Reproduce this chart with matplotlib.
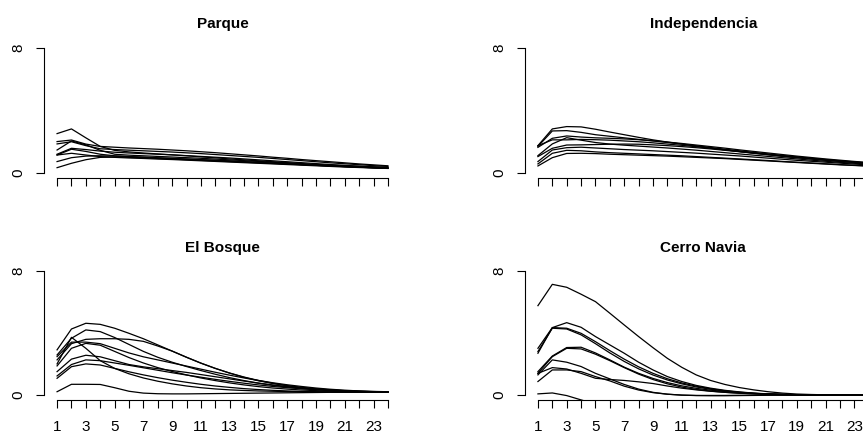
import matplotlib
matplotlib.use("Agg")
import matplotlib.pyplot as plt

plt.rcParams["font.family"] = ["Liberation Sans", "DejaVu Sans"]

# -------------------------------------------------------------------
# Data: one curve per row, hours 1..24
# -------------------------------------------------------------------
hours = list(range(1, 25))

parque = [
    [2.52, 2.82, 2.25, 1.70, 1.45, 1.35, 1.28, 1.22, 1.16, 1.10, 1.03, 0.97, 0.90, 0.84, 0.78, 0.72, 0.66, 0.60, 0.55, 0.50, 0.46, 0.42, 0.39, 0.36],
    [2.01, 2.11, 1.85, 1.70, 1.65, 1.60, 1.56, 1.52, 1.47, 1.42, 1.36, 1.30, 1.23, 1.16, 1.09, 1.01, 0.94, 0.86, 0.79, 0.72, 0.65, 0.58, 0.52, 0.46],
    [1.86, 2.00, 1.75, 1.55, 1.50, 1.46, 1.42, 1.38, 1.34, 1.29, 1.24, 1.18, 1.12, 1.06, 1.00, 0.93, 0.86, 0.79, 0.72, 0.65, 0.59, 0.53, 0.47, 0.42],
    [1.47, 2.05, 1.80, 1.45, 1.20, 1.14, 1.10, 1.06, 1.02, 0.98, 0.94, 0.89, 0.84, 0.79, 0.74, 0.69, 0.64, 0.58, 0.53, 0.48, 0.43, 0.39, 0.35, 0.31],
    [1.20, 1.58, 1.50, 1.40, 1.33, 1.28, 1.24, 1.20, 1.16, 1.11, 1.06, 1.01, 0.96, 0.90, 0.84, 0.78, 0.72, 0.66, 0.60, 0.54, 0.49, 0.44, 0.39, 0.35],
    [1.15, 1.52, 1.38, 1.20, 1.10, 1.05, 1.01, 0.97, 0.93, 0.89, 0.85, 0.81, 0.77, 0.72, 0.68, 0.63, 0.58, 0.54, 0.49, 0.45, 0.41, 0.37, 0.33, 0.30],
    [1.15, 1.26, 1.15, 1.05, 1.00, 0.96, 0.93, 0.89, 0.86, 0.82, 0.78, 0.74, 0.70, 0.66, 0.62, 0.58, 0.54, 0.50, 0.46, 0.42, 0.38, 0.35, 0.32, 0.29],
    [0.73, 0.98, 1.08, 1.10, 1.08, 1.05, 1.01, 0.97, 0.93, 0.89, 0.85, 0.81, 0.77, 0.72, 0.68, 0.63, 0.59, 0.54, 0.50, 0.46, 0.42, 0.38, 0.34, 0.31],
    [0.34, 0.62, 0.85, 1.00, 1.02, 1.00, 0.97, 0.93, 0.89, 0.85, 0.81, 0.77, 0.73, 0.69, 0.65, 0.61, 0.57, 0.53, 0.49, 0.45, 0.41, 0.37, 0.34, 0.30],
]

independencia = [
    [1.75, 2.82, 2.97, 2.95, 2.80, 2.62, 2.45, 2.28, 2.12, 1.98, 1.85, 1.72, 1.60, 1.48, 1.37, 1.26, 1.16, 1.06, 0.97, 0.89, 0.81, 0.74, 0.67, 0.61],
    [1.70, 2.69, 2.71, 2.60, 2.45, 2.35, 2.25, 2.15, 2.05, 1.95, 1.85, 1.74, 1.63, 1.52, 1.42, 1.32, 1.22, 1.12, 1.03, 0.94, 0.86, 0.78, 0.71, 0.64],
    [1.64, 2.22, 2.37, 2.30, 2.25, 2.22, 2.18, 2.13, 2.06, 1.98, 1.89, 1.79, 1.69, 1.59, 1.48, 1.38, 1.28, 1.18, 1.08, 0.99, 0.90, 0.82, 0.74, 0.67],
    [1.75, 2.12, 2.12, 2.15, 2.13, 2.10, 2.05, 2.00, 1.93, 1.85, 1.77, 1.68, 1.58, 1.48, 1.38, 1.28, 1.19, 1.10, 1.01, 0.92, 0.84, 0.76, 0.69, 0.62],
    [1.11, 1.86, 2.26, 2.10, 1.95, 1.85, 1.78, 1.72, 1.66, 1.60, 1.53, 1.46, 1.38, 1.30, 1.22, 1.14, 1.06, 0.98, 0.90, 0.82, 0.75, 0.68, 0.62, 0.56],
    [1.05, 1.58, 1.79, 1.80, 1.82, 1.84, 1.85, 1.84, 1.80, 1.75, 1.69, 1.62, 1.54, 1.45, 1.36, 1.27, 1.18, 1.09, 1.00, 0.92, 0.84, 0.76, 0.69, 0.62],
    [0.73, 1.47, 1.62, 1.65, 1.60, 1.55, 1.50, 1.46, 1.42, 1.37, 1.32, 1.27, 1.21, 1.15, 1.09, 1.02, 0.95, 0.88, 0.81, 0.75, 0.69, 0.63, 0.57, 0.52],
    [0.58, 1.26, 1.45, 1.42, 1.35, 1.30, 1.26, 1.22, 1.18, 1.14, 1.10, 1.05, 1.00, 0.95, 0.90, 0.85, 0.80, 0.74, 0.69, 0.64, 0.59, 0.54, 0.49, 0.45],
    [0.45, 0.98, 1.25, 1.26, 1.24, 1.20, 1.17, 1.14, 1.11, 1.08, 1.04, 1.00, 0.96, 0.92, 0.87, 0.82, 0.77, 0.72, 0.67, 0.62, 0.57, 0.52, 0.48, 0.44],
]

el_bosque = [
    [2.90, 4.25, 4.62, 4.55, 4.30, 3.97, 3.62, 3.22, 2.82, 2.42, 2.04, 1.70, 1.40, 1.14, 0.92, 0.74, 0.59, 0.47, 0.38, 0.31, 0.26, 0.22, 0.20, 0.18],
    [2.57, 3.65, 4.19, 4.08, 3.70, 3.25, 2.80, 2.42, 2.10, 1.82, 1.56, 1.32, 1.10, 0.91, 0.74, 0.60, 0.49, 0.40, 0.33, 0.27, 0.23, 0.20, 0.18, 0.17],
    [2.25, 3.30, 3.58, 3.62, 3.62, 3.58, 3.45, 3.15, 2.82, 2.42, 2.04, 1.70, 1.39, 1.12, 0.90, 0.72, 0.57, 0.45, 0.36, 0.29, 0.24, 0.21, 0.19, 0.17],
    [1.99, 3.71, 3.00, 2.20, 1.70, 1.35, 1.08, 0.87, 0.70, 0.56, 0.45, 0.37, 0.31, 0.27, 0.24, 0.22, 0.20, 0.19, 0.18, 0.18, 0.17, 0.17, 0.17, 0.17],
    [1.86, 3.00, 3.32, 3.20, 2.80, 2.40, 2.05, 1.75, 1.50, 1.28, 1.08, 0.91, 0.76, 0.63, 0.52, 0.43, 0.36, 0.30, 0.26, 0.23, 0.21, 0.19, 0.18, 0.17],
    [2.46, 3.40, 3.40, 3.30, 3.00, 2.70, 2.45, 2.25, 2.05, 1.85, 1.65, 1.45, 1.26, 1.08, 0.92, 0.77, 0.64, 0.53, 0.43, 0.35, 0.29, 0.24, 0.21, 0.19],
    [1.49, 2.30, 2.55, 2.45, 2.20, 1.95, 1.80, 1.68, 1.56, 1.44, 1.30, 1.16, 1.02, 0.88, 0.75, 0.63, 0.52, 0.43, 0.36, 0.30, 0.25, 0.22, 0.19, 0.18],
    [1.21, 1.95, 2.25, 2.20, 2.05, 1.90, 1.74, 1.58, 1.42, 1.27, 1.13, 0.99, 0.86, 0.74, 0.63, 0.53, 0.45, 0.38, 0.32, 0.27, 0.23, 0.20, 0.18, 0.17],
    [1.06, 1.81, 1.99, 1.92, 1.70, 1.48, 1.28, 1.10, 0.94, 0.80, 0.67, 0.56, 0.47, 0.39, 0.33, 0.28, 0.24, 0.21, 0.19, 0.18, 0.17, 0.17, 0.16, 0.16],
    [0.19, 0.67, 0.67, 0.66, 0.45, 0.22, 0.10, 0.06, 0.05, 0.05, 0.06, 0.07, 0.08, 0.09, 0.10, 0.11, 0.12, 0.13, 0.14, 0.15, 0.15, 0.15, 0.15, 0.15],
]

cerro_navia = [
    [5.76, 7.14, 6.95, 6.50, 6.02, 5.27, 4.51, 3.76, 3.04, 2.35, 1.77, 1.28, 0.92, 0.66, 0.46, 0.31, 0.19, 0.10, 0.04, 0.01, -0.01, -0.02, -0.02, -0.02],
    [3.00, 4.34, 4.66, 4.36, 3.76, 3.22, 2.68, 2.10, 1.60, 1.17, 0.85, 0.60, 0.42, 0.28, 0.18, 0.10, 0.05, 0.02, 0.00, -0.01, -0.02, -0.02, -0.02, -0.02],
    [2.68, 4.34, 4.30, 3.97, 3.43, 2.85, 2.30, 1.80, 1.38, 1.03, 0.76, 0.55, 0.38, 0.25, 0.16, 0.09, 0.04, 0.01, -0.01, -0.02, -0.02, -0.02, -0.02, -0.02],
    [2.79, 4.30, 4.25, 3.87, 3.30, 2.70, 2.15, 1.67, 1.27, 0.95, 0.70, 0.50, 0.35, 0.23, 0.14, 0.08, 0.04, 0.01, -0.01, -0.02, -0.02, -0.02, -0.02, -0.02],
    [1.49, 2.50, 3.05, 3.07, 2.70, 2.25, 1.78, 1.38, 1.05, 0.78, 0.57, 0.41, 0.29, 0.20, 0.13, 0.08, 0.04, 0.01, -0.01, -0.02, -0.02, -0.02, -0.02, -0.02],
    [1.38, 2.46, 3.00, 2.96, 2.62, 2.20, 1.75, 1.33, 0.98, 0.70, 0.49, 0.34, 0.23, 0.15, 0.09, 0.05, 0.02, 0.00, -0.01, -0.02, -0.02, -0.02, -0.02, -0.02],
    [1.28, 2.25, 2.10, 1.82, 1.38, 1.02, 0.66, 0.36, 0.15, 0.03, -0.03, -0.05, -0.05, -0.05, -0.04, -0.04, -0.03, -0.03, -0.02, -0.02, -0.02, -0.02, -0.02, -0.02],
    [0.85, 1.60, 1.60, 1.49, 1.17, 0.89, 0.55, 0.30, 0.13, 0.03, -0.03, -0.06, -0.07, -0.07, -0.06, -0.05, -0.04, -0.03, -0.02, -0.02, -0.02, -0.02, -0.02, -0.02],
    [1.38, 1.75, 1.66, 1.38, 1.06, 0.98, 0.92, 0.83, 0.72, 0.56, 0.42, 0.31, 0.22, 0.15, 0.10, 0.06, 0.03, 0.01, -0.01, -0.02, -0.02, -0.02, -0.02, -0.02],
    [0.05, 0.11, -0.06, -0.34, -0.60, -0.80, -0.90, -0.92, -0.88, -0.82, -0.75, -0.68, -0.62, -0.57, -0.53, -0.50, -0.48, -0.46, -0.45, -0.44, -0.43, -0.43, -0.42, -0.42],
]

titles = ["Parque", "Independencia", "El Bosque", "Cerro Navia"]
panels = [parque, independencia, el_bosque, cerro_navia]
y_ticks = [0, 8]

# -------------------------------------------------------------------
# Figure: 2x2 panels, right column runs off the edge like the source
# -------------------------------------------------------------------
fig = plt.figure(figsize=(8.63, 4.32), dpi=100)
boxes = [
    [0.0508, 0.588, 0.414, 0.3125],
    [0.608, 0.588, 0.414, 0.3125],
    [0.0508, 0.075, 0.414, 0.309],
    [0.608, 0.075, 0.414, 0.309],
]

for i, (title, curves, box) in enumerate(zip(titles, panels, boxes)):
    ax = fig.add_axes(box)
    for c in curves:
        ax.plot(hours, c, color="black", lw=0.9)

    ax.set_xlim(0.08, 24.92)
    ax.set_ylim(-0.32, 8.32)

    for s in ["top", "right"]:
        ax.spines[s].set_visible(False)
    ax.spines["left"].set_bounds(0, 8)
    ax.spines["bottom"].set_bounds(1, 24)
    ax.spines["left"].set_linewidth(0.8)
    ax.spines["bottom"].set_linewidth(0.8)

    ax.set_yticks(y_ticks)
    ax.set_yticklabels([str(v) for v in y_ticks], rotation=90, va="center")
    ax.set_xticks(hours)
    if i >= 2:
        ax.set_xticklabels([str(h) if h % 2 == 1 else "" for h in hours])
    else:
        ax.set_xticklabels([])

    ax.tick_params(length=6, width=0.8, labelsize=11)
    ax.tick_params(axis="x", pad=8.5)
    ax.tick_params(axis="y", pad=7)
    ax.set_title(title, fontsize=11, fontweight="bold", pad=10.5)

fig.savefig("out.png", dpi=100)
